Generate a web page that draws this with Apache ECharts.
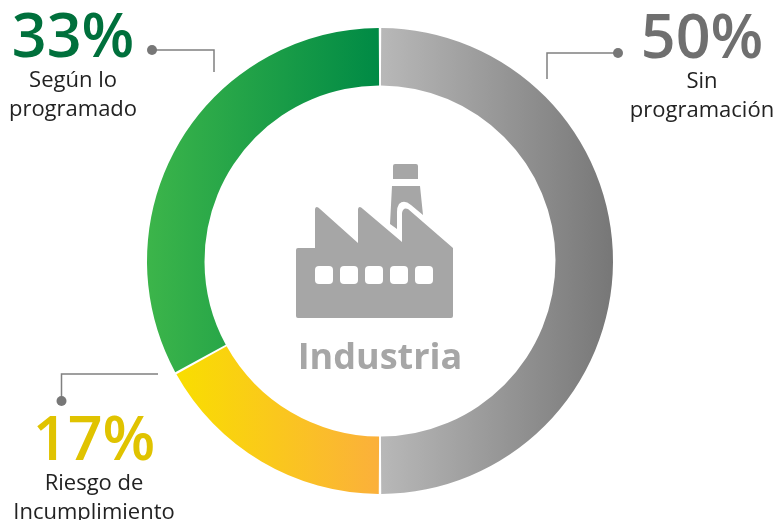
<!DOCTYPE html>
<html>
<head>
<meta charset="utf-8">
<style>
  html, body { margin: 0; padding: 0; background: #fff; }
  #chart { width: 777px; height: 520px; }
</style>
<script src="https://cdn.jsdelivr.net/npm/echarts@6/dist/echarts.min.js"></script>
</head>
<body>
<div id="chart"></div>
<script>
const categories = ['Sin\nprogramación', 'Riesgo de\nIncumplimiento', 'Según lo\nprogramado']
const values = [50, 17, 33]
const centerLabel = 'Industria'

const font = '"Open Sans", sans-serif'
const factoryPath = 'M296 250Q296 248 298 248L315 248L315 209Q316 205 320 209L358 243L358 209Q359 205 363 209' +
  'L402 242L402 213Q403 207 408 209L453 248L453 316Q453 318 451 318L298 318Q296 318 296 316Z'
const chimneyPath = 'M395 164L416 164Q418 164 418 166L418 179L393 179L393 166Q393 164 395 164Z' +
  'M392 186L420 186L423 215L411 205Q404 199 399 204Q397 207 397 212L397 229L390 224Z'
const windowX = [315, 340, 365, 390, 415]

echarts.graphic.registerShape('factory', echarts.graphic.extendPath(factoryPath))
echarts.graphic.registerShape('chimney', echarts.graphic.extendPath(chimneyPath))

function gradient(from, to) {
  return new echarts.graphic.LinearGradient(0, 0, 1, 0, [
    { offset: 0, color: from },
    { offset: 1, color: to }
  ])
}

function callout(x, yTop, colour, i) {
  return {
    type: 'group',
    children: [
      {
        type: 'text', x: x, y: yTop,
        style: {
          text: values[i] + '%', fill: colour, font: '600 61px ' + font,
          textAlign: 'center', textVerticalAlign: 'top'
        }
      },
      {
        type: 'text', x: x, y: yTop + 57,
        style: {
          text: categories[i], fill: '#222222', font: '22px ' + font,
          textAlign: 'center', textVerticalAlign: 'top', lineHeight: 29
        }
      }
    ]
  }
}

function leader(points, dot) {
  return [
    {
      type: 'polyline', shape: { points: points },
      style: { stroke: '#808080', lineWidth: 1.5, fill: null }
    },
    { type: 'circle', shape: { cx: dot[0], cy: dot[1], r: 5 }, style: { fill: '#777777' } }
  ]
}

const chart = echarts.init(document.getElementById('chart'), null, { renderer: 'canvas' })
chart.setOption({
  animation: false,
  series: [{
    type: 'pie',
    silent: true,
    center: [380, 261],
    radius: [175.5, 233],
    startAngle: 90,
    clockwise: true,
    padAngle: 0.6,
    label: { show: false },
    labelLine: { show: false },
    data: [
      { name: categories[0], value: values[0], itemStyle: { color: gradient('#b8b8b8', '#777777') } },
      { name: categories[1], value: values[1], itemStyle: { color: gradient('#f9de00', '#fbb03b') } },
      { name: categories[2], value: values[2], itemStyle: { color: gradient('#3cb54a', '#008a45') } }
    ]
  }],
  graphic: {
    elements: [
      { type: 'factory', style: { fill: '#a6a6a6' } },
      { type: 'chimney', style: { fill: '#a6a6a6' } },
      ...windowX.map(x => ({
        type: 'rect', shape: { x: x, y: 266, width: 18, height: 18, r: 4 }, style: { fill: '#ffffff' }
      })),
      {
        type: 'text', x: 380, y: 341,
        style: {
          text: centerLabel, fill: '#a6a6a6', font: 'bold 36px ' + font,
          textAlign: 'center', textVerticalAlign: 'top'
        }
      },
      ...leader([[152, 50], [214, 50], [214, 72]], [152, 50]),
      ...leader([[618, 53], [547, 53], [547, 79]], [618, 53]),
      ...leader([[61.5, 401], [61.5, 374], [158, 374]], [61.5, 401]),
      callout(73, 9, '#00703c', 2),
      callout(702, 10, '#6f6f6f', 0),
      callout(94, 412, '#e0c300', 1)
    ]
  }
})
</script>
</body>
</html>
